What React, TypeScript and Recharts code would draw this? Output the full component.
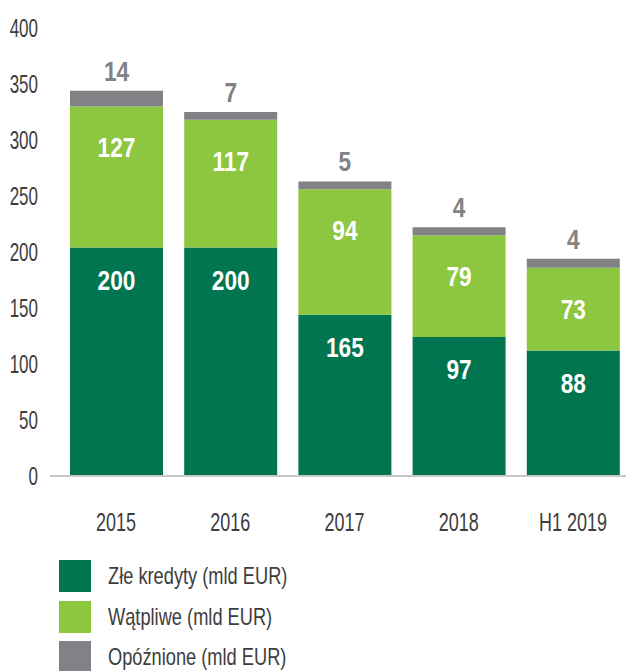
import { BarChart, Bar, XAxis, YAxis, LabelList } from "recharts"

const categories = ["2015", "2016", "2017", "2018", "H1 2019"]

// segment heights as drawn in the source picture
const zleKredyty = [204, 204, 144, 124, 112]
const watpliwe = [126, 114, 112, 91, 74]
const opoznione = [14, 7, 7, 7, 8]

// numbers printed on the bars
const zleLabels = [200, 200, 165, 97, 88]
const watpliweLabels = [127, 117, 94, 79, 73]
const opoznioneLabels = [14, 7, 5, 4, 4]

const yTicks = [0, 50, 100, 150, 200, 250, 300, 350, 400]

// no condensed font installed, so Liberation Sans gets squeezed horizontally
const FONT = '"Liberation Sans", Arial, sans-serif'
const TEXT = "#3d3d3d"

const series = [
  { key: "zle", name: "Złe kredyty (mld EUR)", color: "#00754f" },
  { key: "watpliwe", name: "Wątpliwe (mld EUR)", color: "#8dc63f" },
  { key: "opoznione", name: "Opóźnione (mld EUR)", color: "#808285" },
]

const data = categories.map((c, i) => ({
  name: c,
  zle: zleKredyty[i],
  watpliwe: watpliwe[i],
  opoznione: opoznione[i],
  zleLabel: zleLabels[i],
  watpliweLabel: watpliweLabels[i],
  opoznioneLabel: opoznioneLabels[i],
}))

function Narrow({ x, y, anchor, size, squeeze, fill, bold, children }: any) {
  return (
    <text
      x={0}
      y={0}
      transform={`translate(${x},${y}) scale(${squeeze},1)`}
      textAnchor={anchor}
      fontFamily={FONT}
      fontSize={size}
      fontWeight={bold ? 700 : 400}
      fill={fill}
    >
      {children}
    </text>
  )
}

function YTick(props: any) {
  return (
    <Narrow x={props.x} y={props.y + 9} anchor="end" size={25} squeeze={0.68} fill={TEXT}>
      {props.payload.value}
    </Narrow>
  )
}

function XTick(props: any) {
  return (
    <Narrow x={props.x} y={props.y + 49} anchor="middle" size={25} squeeze={0.72} fill={TEXT}>
      {props.payload.value}
    </Narrow>
  )
}

// dy: baseline offset from the top of the segment
function valueLabel(dy: number, fill: string) {
  return (props: any) => {
    const vb = props.viewBox || props
    const x = vb.x + vb.width / 2
    return (
      <Narrow x={x} y={vb.y + dy} anchor="middle" size={28} squeeze={0.81} fill={fill} bold>
        {props.value}
      </Narrow>
    )
  }
}

export default function App() {
  return (
    <div
      style={{
        position: "relative",
        width: 626,
        height: 671,
        overflow: "hidden",
        background: "#fff",
        fontFamily: FONT,
      }}
    >
      <style>{`body{margin:0}`}</style>
      <BarChart
        width={630}
        height={560}
        data={data}
        margin={{ top: 28, right: 0, bottom: 0, left: 0 }}
      >
        <YAxis
          width={50}
          domain={[0, 400]}
          ticks={yTicks}
          axisLine={false}
          tickLine={false}
          tickMargin={6}
          tick={<YTick />}
        />
        <XAxis
          dataKey="name"
          height={84}
          padding={{ left: 9, right: 0 }}
          axisLine={{ stroke: "#c8c8c8", strokeWidth: 2 }}
          tickLine={false}
          tickMargin={0}
          tick={<XTick />}
        />
        <Bar dataKey="zle" stackId="a" fill="#00754f" barSize={93} isAnimationActive={false}>
          <LabelList dataKey="zleLabel" content={valueLabel(42, "#ffffff")} />
        </Bar>
        <Bar dataKey="watpliwe" stackId="a" fill="#8dc63f" barSize={93} isAnimationActive={false}>
          <LabelList dataKey="watpliweLabel" content={valueLabel(51, "#ffffff")} />
        </Bar>
        <Bar dataKey="opoznione" stackId="a" fill="#808285" barSize={93} isAnimationActive={false}>
          <LabelList dataKey="opoznioneLabel" content={valueLabel(-10, "#808285")} />
        </Bar>
      </BarChart>

      <div style={{ position: "absolute", left: 59, top: 560 }}>
        {series.map((s) => (
          <div
            key={s.key}
            style={{ display: "flex", alignItems: "center", height: 32, marginBottom: 8.5 }}
          >
            <div style={{ width: 32, height: 32, background: s.color, flex: "none" }} />
            <span
              style={{
                marginLeft: 17,
                fontSize: 24,
                color: TEXT,
                lineHeight: "32px",
                whiteSpace: "nowrap",
                display: "inline-block",
                transform: "scaleX(0.76)",
                transformOrigin: "left center",
                position: "relative",
                top: 0,
              }}
            >
              {s.name}
            </span>
          </div>
        ))}
      </div>
    </div>
  )
}
